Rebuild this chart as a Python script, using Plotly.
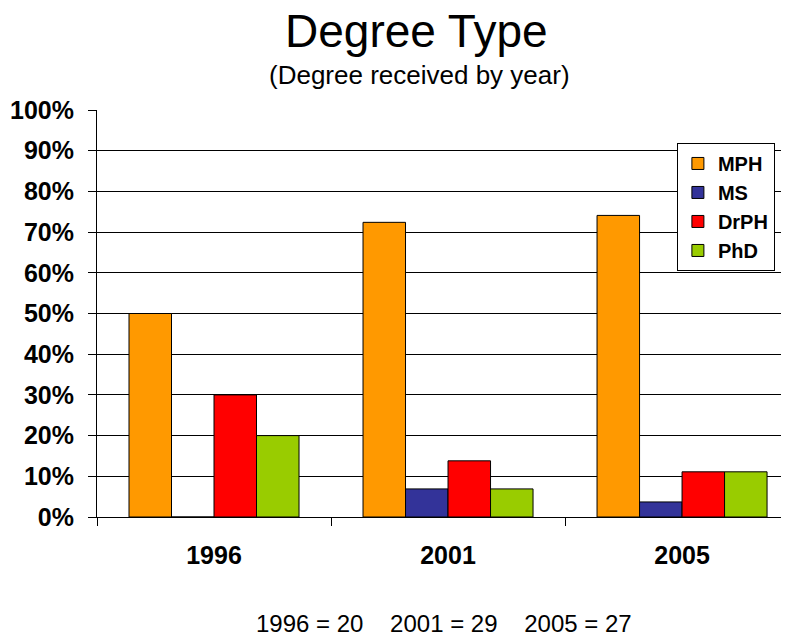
import plotly.graph_objects as go

years = ["1996", "2001", "2005"]
series_names = ["MPH", "MS", "DrPH", "PhD"]
mph = [50.0, 72.4, 74.1]
ms = [0.0, 6.9, 3.7]
drph = [30.0, 13.8, 11.1]
phd = [20.0, 6.9, 11.1]
colors = ["#FF9900", "#333399", "#FF0000", "#99CC00"]
y_ticks = [0, 10, 20, 30, 40, 50, 60, 70, 80, 90, 100]
y_tick_labels = [f"{v}%" for v in y_ticks]
footer = "1996 = 20    2001 = 29    2005 = 27"

FONT = "Liberation Sans, Arial, sans-serif"

fig = go.Figure()
for name, vals, col in zip(series_names, [mph, ms, drph, phd], colors):
    fig.add_trace(go.Bar(
        x=years, y=vals, name=name, legendgroup=name,
        marker=dict(color=col, line=dict(color="#000000", width=1)),
    ))

fig.update_layout(
    width=781, height=629,
    margin=dict(l=89, r=0, t=102, b=120),
    paper_bgcolor="white", plot_bgcolor="white",
    barmode="group", bargap=0.2735, bargroupgap=0,
    font=dict(family=FONT, color="black"),
    showlegend=True,
    legend=dict(
        x=0.838, y=0.919, xanchor="left", yanchor="top",
        bgcolor="white", bordercolor="#000000", borderwidth=1,
        font=dict(size=20, family=FONT, color="black", weight="bold"),
        tracegroupgap=0, itemwidth=30,
    ),
    xaxis=dict(
        type="category", range=[-0.5, 2.457],
        showline=True, linecolor="black", linewidth=1,
        ticks="outside", tickson="boundaries", ticklen=8, tickcolor="black",
        tickfont=dict(size=25, family=FONT, weight="bold"),
        ticklabelstandoff=16,
        showgrid=False,
    ),
    yaxis=dict(
        range=[0, 100], tickvals=y_ticks, ticktext=y_tick_labels,
        showline=True, linecolor="black", linewidth=1,
        ticks="outside", ticklen=8, tickcolor="black",
        tickfont=dict(size=25, family=FONT, weight="bold"),
        ticklabelstandoff=9,
        showgrid=True, gridcolor="black", gridwidth=1,
        zeroline=False,
    ),
    annotations=[
        dict(text="Degree Type", xref="paper", yref="paper", x=0.4624, y=1.195,
             xanchor="center", yanchor="middle", showarrow=False,
             font=dict(size=46, family=FONT, color="black")),
        dict(text="(Degree received by year)", xref="paper", yref="paper", x=0.466, y=1.086,
             xanchor="center", yanchor="middle", showarrow=False,
             font=dict(size=26, family=FONT, color="black")),
        dict(text=footer, xref="paper", yref="paper", x=0.501, y=-0.2617,
             xanchor="center", yanchor="middle", showarrow=False,
             font=dict(size=24, family=FONT, color="black")),
    ],
)

fig.write_html("out.html")
